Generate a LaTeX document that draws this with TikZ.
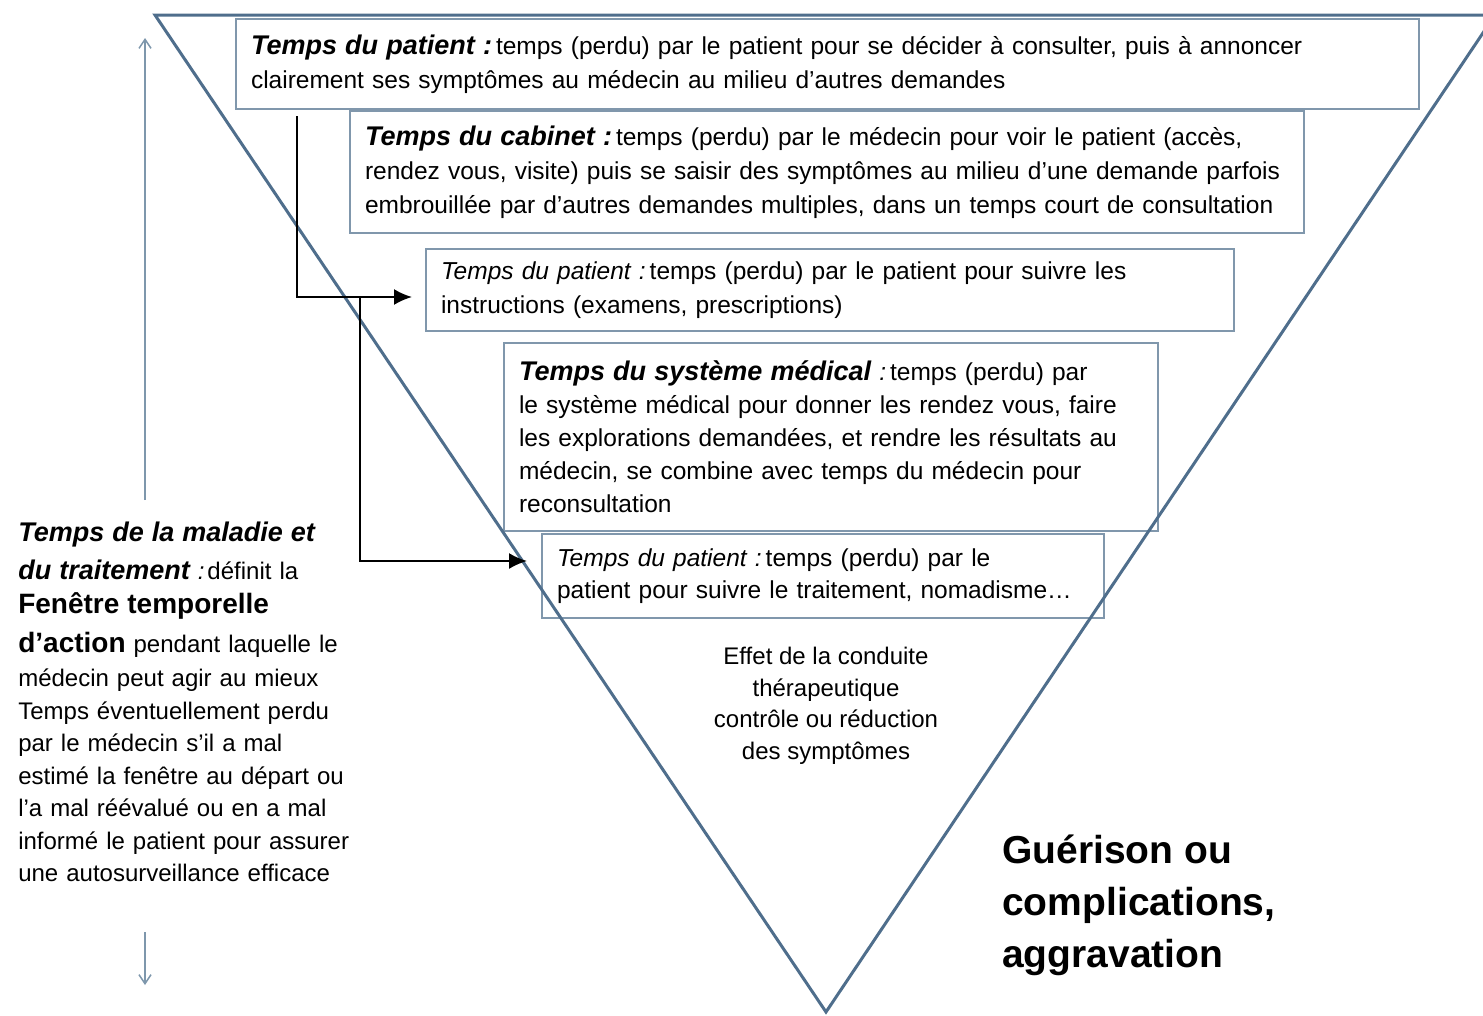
\documentclass[tikz,border=0pt]{standalone}
\usepackage{fontspec}
\setmainfont{Liberation Sans}
\usetikzlibrary{positioning, arrows.meta}
\definecolor{trame}{HTML}{4F6E8C}
\definecolor{cadre}{HTML}{8097AC}
\definecolor{duree}{HTML}{7E97AC}
\newcommand{\titre}[1]{{\fontsize{27}{34}\selectfont\bfseries\itshape #1}}

\begin{document}
\begin{tikzpicture}[x=1pt, y=-1pt, semithick,
      box/.style={rectangle, draw=cadre, line width=2pt, anchor=north west,
        align=left, inner xsep=15pt, inner ysep=0pt,
        font=\fontsize{24.5}{34}\selectfont},
      flow/.style={-{Latex[length=18pt, width=16pt]}, line width=2pt, black},
      fleche/.style={-{Straight Barb[length=9pt, width=12pt]}, line width=1.5pt, draw=duree}]
      \useasboundingbox (0,0) rectangle (1483,1015);
      % les boites
      \node[box, text width=1153pt, minimum height=90pt] (pat1) at(235,18)
        {\titre{Temps du patient :}\hspace{4pt}temps (perdu) par le patient pour se décider à consulter, puis à annoncer\\
         clairement ses symptômes au médecin au milieu d'autres demandes};
      \node[box, text width=924pt, minimum height=122pt] (cab) at(349,110)
        {\titre{Temps du cabinet :}\hspace{4pt}temps (perdu) par le médecin pour voir le patient (accès,\\
         rendez vous, visite) puis se saisir des symptômes au milieu d'une demande parfois\\
         embrouillée par d'autres demandes multiples, dans un temps court de consultation};
      \node[box, text width=778pt, minimum height=82pt] (pat2) at(425,248)
        {\textit{Temps du patient :}\hspace{4pt}temps (perdu) par le patient pour suivre les\\
         instructions (examens, prescriptions)};
      \node[box, text width=624pt, minimum height=188pt,
        font=\fontsize{24.5}{33}\selectfont] (sys) at(503,342)
        {\titre{Temps du système médical} \textit{:}\hspace{4pt}temps (perdu) par\\
         le système médical pour donner les rendez vous, faire\\
         les explorations demandées, et rendre les résultats au\\
         médecin, se combine avec temps du médecin pour\\
         reconsultation};
      \node[box, text width=532pt, minimum height=84pt,
        font=\fontsize{24.5}{32}\selectfont] (pat3) at(541,533)
        {\textit{Temps du patient :}\hspace{4pt}temps (perdu) par le\\
         patient pour suivre le traitement, nomadisme…};
      % le triangle
      \draw[trame, line width=3pt, line join=miter] (155,15) -- (1495,15) -- (826,1012) -- cycle;
      % textes libres
      \node[align=center, font=\fontsize{24}{31.5}\selectfont] (effet) at(826,706)
        {Effet de la conduite\\ thérapeutique\\ contrôle ou réduction\\ des symptômes};
      \node[anchor=west, align=left, inner sep=0pt,
        font=\fontsize{39}{52}\selectfont\bfseries] (issue) at(1002,905)
        {Guérison ou\\ complications,\\ aggravation};
      \node[anchor=north west, align=left, inner sep=0pt, text width=360pt,
        font=\fontsize{24}{32.5}\selectfont] (maladie) at(18,522)
        {\titre{Temps de la maladie et}\\[5pt]
         \titre{du traitement} \textit{:}\hspace{3pt}définit la\\[2pt]
         {\fontsize{28}{34}\selectfont\bfseries Fenêtre temporelle}\\[6pt]
         {\fontsize{28}{34}\selectfont\bfseries d’action} pendant laquelle le\\[2pt]
         médecin peut agir au mieux\\
         Temps éventuellement perdu\\
         par le médecin s'il a mal\\
         estimé la fenêtre au départ ou\\
         l'a mal réévalué ou en a mal\\
         informé le patient pour assurer\\
         une autosurveillance efficace};
      % fleches
      \coordinate (haut) at(145,38);
      \coordinate (bas) at(145,985);
      \draw[fleche, shorten <=22pt] (maladie.north -| haut) -- (haut);
      \draw[fleche, shorten <=50pt] (maladie.south -| bas) -- (bas);
      \coordinate (embr) at(360,296);
      \draw[flow, shorten <=6pt, shorten >=13pt] ([xshift=62pt]pat1.south west) |- ([yshift=-7pt]pat2.west);
      \draw[flow, shorten >=14pt] (embr) |- ([yshift=15pt]pat3.west);
  \end{tikzpicture}
\end{document}
